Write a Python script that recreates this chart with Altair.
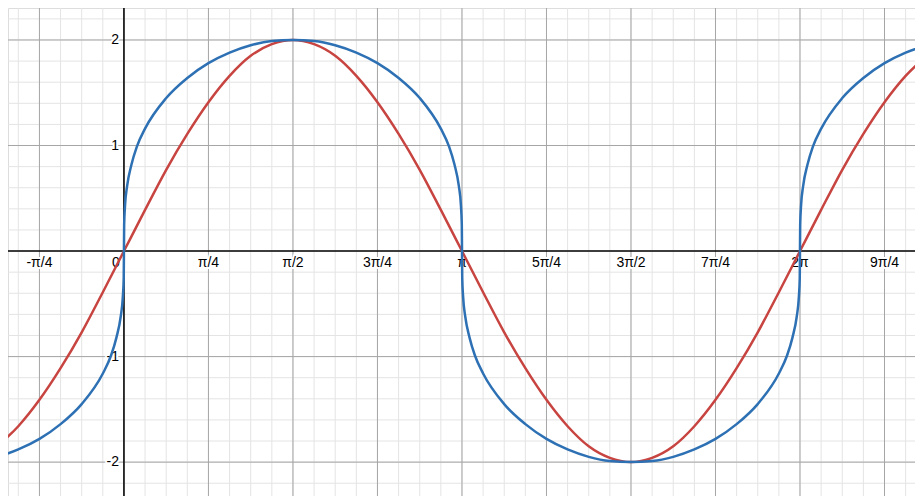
import math
import altair as alt
import pandas as pd

PI = math.pi

# red curve: x given in sixteenths of pi, y
red_x16 = list(range(-6, 39))
red_y = [-1.85, -1.66, -1.41, -1.11, -0.77, -0.39, 0,
         0.39, 0.77, 1.11, 1.41, 1.66, 1.85, 1.96, 2.00, 1.96, 1.85, 1.66, 1.41, 1.11, 0.77, 0.39, 0,
         -0.39, -0.77, -1.11, -1.41, -1.66, -1.85, -1.96, -2.00, -1.96, -1.85, -1.66, -1.41, -1.11, -0.77, -0.39, 0,
         0.39, 0.77, 1.11, 1.41, 1.66, 1.85]

# blue curve: x in radians, y
blue_x = [-1.178, -0.982, -0.785, -0.589, -0.393, -0.196,
          -0.12, -0.07, -0.03, -0.01, -0.002, 0, 0.002, 0.01, 0.03, 0.07, 0.12,
          0.196, 0.393, 0.589, 0.785, 0.982, 1.178, 1.374, 1.571, 1.767, 1.963, 2.160, 2.356, 2.553, 2.749, 2.945,
          3.022, 3.072, 3.112, 3.132, 3.140, 3.142, 3.144, 3.152, 3.172, 3.212, 3.262,
          3.338, 3.534, 3.731, 3.927, 4.123, 4.320, 4.516, 4.712, 4.909, 5.105, 5.301, 5.498, 5.694, 5.890, 6.087,
          6.163, 6.213, 6.253, 6.273, 6.281, 6.283, 6.285, 6.293, 6.313, 6.353, 6.403,
          6.480, 6.676, 6.872, 7.069, 7.265, 7.461]
blue_y = [-1.95, -1.88, -1.78, -1.64, -1.45, -1.16,
          -0.99, -0.82, -0.62, -0.43, -0.25, 0, 0.25, 0.43, 0.62, 0.82, 0.99,
          1.16, 1.45, 1.64, 1.78, 1.88, 1.95, 1.99, 2.00, 1.99, 1.95, 1.88, 1.78, 1.64, 1.45, 1.16,
          0.99, 0.82, 0.62, 0.43, 0.25, 0, -0.25, -0.43, -0.62, -0.82, -0.99,
          -1.16, -1.45, -1.64, -1.78, -1.88, -1.95, -1.99, -2.00, -1.99, -1.95, -1.88, -1.78, -1.64, -1.45, -1.16,
          -0.99, -0.82, -0.62, -0.43, -0.25, 0, 0.25, 0.43, 0.62, 0.82, 0.99,
          1.16, 1.45, 1.64, 1.78, 1.88, 1.95]

# tick labels
x_labels = ["-π/4", "π/4", "π/2", "3π/4", "π", "5π/4", "3π/2", "7π/4", "2π", "9π/4"]
x_label_quarters = [-1, 1, 2, 3, 4, 5, 6, 7, 8, 9]
y_labels = ["2", "1", "-1", "-2"]
y_label_vals = [2, 1, -1, -2]

XDOM = [-1.0776, 7.352]
YDOM = [-2.321, 2.303]
W, H = 907, 488

red_df = pd.DataFrame({"x": [k * PI / 16 for k in red_x16], "y": red_y})
blue_df = pd.DataFrame({"x": blue_x, "y": blue_y})

minor_x = pd.DataFrame({"x": [k * PI / 16 for k in range(-5, 38)]})
major_x = pd.DataFrame({"x": [k * PI / 4 for k in range(-1, 10)]})
minor_y = pd.DataFrame({"y": [k / 5 for k in range(-11, 12)]})
major_y = pd.DataFrame({"y": [-2, -1, 1, 2]})

xs = alt.Scale(domain=XDOM, nice=False, zero=False)
ys = alt.Scale(domain=YDOM, nice=False, zero=False)
X = lambda: alt.X("x:Q", scale=xs, axis=None)
Y = lambda: alt.Y("y:Q", scale=ys, axis=None)

minor_v = alt.Chart(minor_x).mark_rule(color="#e4e4e4", strokeWidth=1).encode(x=X())
minor_h = alt.Chart(minor_y).mark_rule(color="#e4e4e4", strokeWidth=1).encode(y=Y())
major_v = alt.Chart(major_x).mark_rule(color="#a6a6a6", strokeWidth=1).encode(x=X())
major_h = alt.Chart(major_y).mark_rule(color="#a6a6a6", strokeWidth=1).encode(y=Y())
axis_v = alt.Chart(pd.DataFrame({"x": [0]})).mark_rule(color="#000000", strokeWidth=1.5).encode(x=X())
axis_h = alt.Chart(pd.DataFrame({"y": [0]})).mark_rule(color="#000000", strokeWidth=1.5).encode(y=Y())

FONT = "Liberation Sans"
xl_df = pd.DataFrame({"x": [q * PI / 4 for q in x_label_quarters], "y": [0] * len(x_labels), "t": x_labels})
yl_df = pd.DataFrame({"x": [0] * len(y_labels), "y": y_label_vals, "t": y_labels})
zero_df = pd.DataFrame({"x": [0], "y": [0], "t": ["0"]})


def labels(df, **kw):
    halo = alt.Chart(df).mark_text(font=FONT, fontSize=14, fill="white", stroke="white",
                                   strokeWidth=4, strokeJoin="round", baseline="middle", **kw).encode(
        x=X(), y=Y(), text="t:N")
    txt = alt.Chart(df).mark_text(font=FONT, fontSize=14, color="#000000", baseline="middle", **kw).encode(
        x=X(), y=Y(), text="t:N")
    return [halo, txt]


red = alt.Chart(red_df).mark_line(color="#c74440", strokeWidth=2.5, interpolate="monotone", clip=True).encode(
    x=X(), y=Y())
blue = alt.Chart(blue_df).mark_line(color="#2d70b3", strokeWidth=2.5, interpolate="monotone", clip=True).encode(
    x=X(), y=Y())

layers = [minor_v, minor_h, major_v, major_h, axis_v, axis_h]
layers += labels(xl_df, align="center", dy=12)
layers += labels(yl_df, align="right", dx=-5)
layers += labels(zero_df, align="center", dx=-8, dy=12)
layers += [red, blue]

chart = alt.layer(*layers).properties(width=W, height=H, padding=0, autosize="none").configure_view(
    stroke=None).configure(background="white")

chart.save("out.html", embed_options={"renderer": "svg", "actions": False})
